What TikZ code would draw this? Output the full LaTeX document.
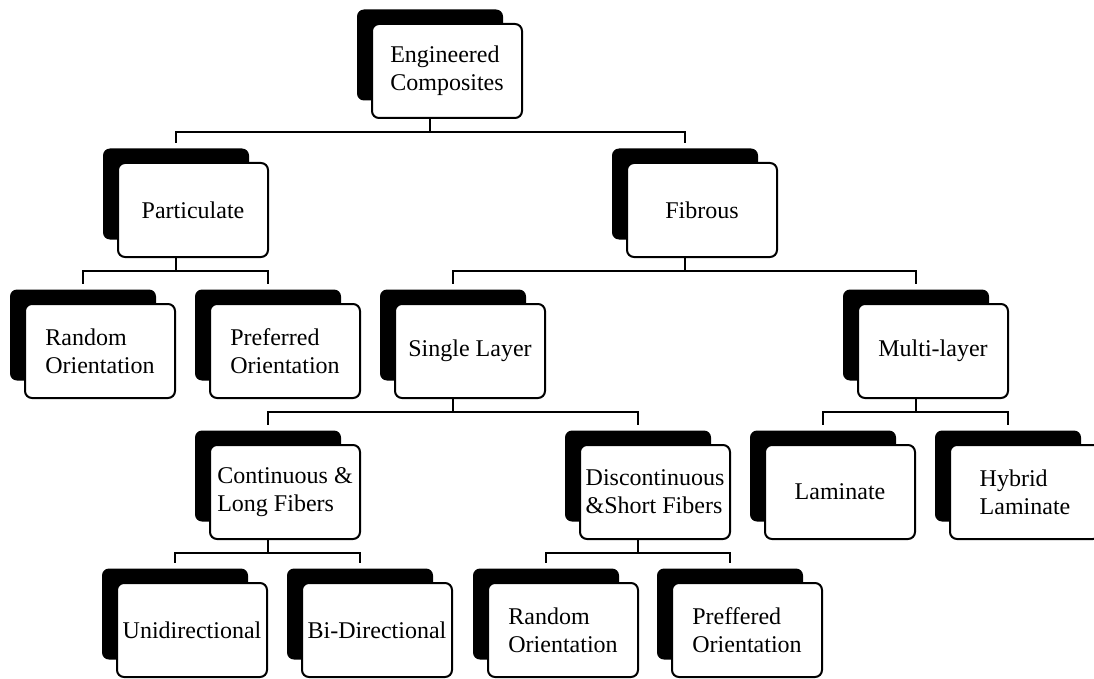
\documentclass[tikz,border=0pt]{standalone}
\usepackage{fontspec}
\setmainfont{Liberation Serif}
\usetikzlibrary{positioning}

\begin{document}
\begin{tikzpicture}[x=1pt,y=-1pt]
	\useasboundingbox (0,0) rectangle (1094,679);
	
	\tikzstyle{every node}=[inner sep=0pt]
	\tikzstyle{backbox}=[fill=black, rounded corners=7pt, minimum width=146pt, minimum height=91pt]
	\tikzstyle{frontbox}=[draw, line width=2pt, fill=white, rounded corners=7pt, minimum width=150pt, minimum height=94pt, align=left, font=\fontsize{24}{28}\selectfont]
	\tikzstyle{link}=[line width=2pt, shorten >=5pt]
	
	% top
	\node[backbox] (engS) at (430,55) {};
	\node[frontbox] (eng) at ([shift={(17,16)}]engS) {Engineered\\Composites};
	
	% second row
	\node[backbox] (partS) at (176,194) {};
	\node[frontbox] (part) at ([shift={(17,16)}]partS) {Particulate};
	\node[backbox] (fibS) at (685,194) {};
	\node[frontbox] (fib) at ([shift={(17,16)}]fibS) {Fibrous};
	
	% third row
	\node[backbox] (randaS) at (83,335) {};
	\node[frontbox] (randa) at ([shift={(17,16)}]randaS) {Random\\Orientation};
	\node[backbox] (prefaS) at (268,335) {};
	\node[frontbox] (prefa) at ([shift={(17,16)}]prefaS) {Preferred\\Orientation};
	\node[backbox] (singS) at (453,335) {};
	\node[frontbox] (sing) at ([shift={(17,16)}]singS) {Single Layer};
	\node[backbox] (multS) at (916,335) {};
	\node[frontbox] (mult) at ([shift={(17,16)}]multS) {Multi-layer};
	
	% fourth row
	\node[backbox] (contS) at (268,476) {};
	\node[frontbox] (cont) at ([shift={(17,16)}]contS) {Continuous \&\\Long Fibers};
	\node[backbox] (discS) at (638,476) {};
	\node[frontbox] (disc) at ([shift={(17,16)}]discS) {Discontinuous\\\&Short Fibers};
	\node[backbox] (lamS) at (823,476) {};
	\node[frontbox] (lam) at ([shift={(17,16)}]lamS) {Laminate};
	\node[backbox] (hybS) at (1008,476) {};
	\node[frontbox] (hyb) at ([shift={(17,16)}]hybS) {Hybrid\\Laminate};
	
	% bottom row
	\node[backbox] (uniS) at (175,614) {};
	\node[frontbox] (uni) at ([shift={(17,16)}]uniS) {Unidirectional};
	\node[backbox] (biS) at (360,614) {};
	\node[frontbox] (bi) at ([shift={(17,16)}]biS) {Bi-Directional};
	\node[backbox] (randbS) at (546,614) {};
	\node[frontbox] (randb) at ([shift={(17,16)}]randbS) {Random\\Orientation};
	\node[backbox] (prefbS) at (730,614) {};
	\node[frontbox] (prefb) at ([shift={(17,16)}]prefbS) {Preffered\\Orientation};
	
	% connectors
	\draw[link] (engS |- eng.south) -- ++(0,13) -| (partS.north);
	\draw[link] (engS |- eng.south) -- ++(0,13) -| (fibS.north);
	\draw[link] (partS |- part.south) -- ++(0,13) -| (randaS.north);
	\draw[link] (partS |- part.south) -- ++(0,13) -| (prefaS.north);
	\draw[link] (fibS |- fib.south) -- ++(0,13) -| (singS.north);
	\draw[link] (fibS |- fib.south) -- ++(0,13) -| (multS.north);
	\draw[link] (singS |- sing.south) -- ++(0,13) -| (contS.north);
	\draw[link] (singS |- sing.south) -- ++(0,13) -| (discS.north);
	\draw[link] (multS |- mult.south) -- ++(0,13) -| (lamS.north);
	\draw[link] (multS |- mult.south) -- ++(0,13) -| (hybS.north);
	\draw[link] (contS |- cont.south) -- ++(0,13) -| (uniS.north);
	\draw[link] (contS |- cont.south) -- ++(0,13) -| (biS.north);
	\draw[link] (discS |- disc.south) -- ++(0,13) -| (randbS.north);
	\draw[link] (discS |- disc.south) -- ++(0,13) -| (prefbS.north);
\end{tikzpicture}
\end{document}
